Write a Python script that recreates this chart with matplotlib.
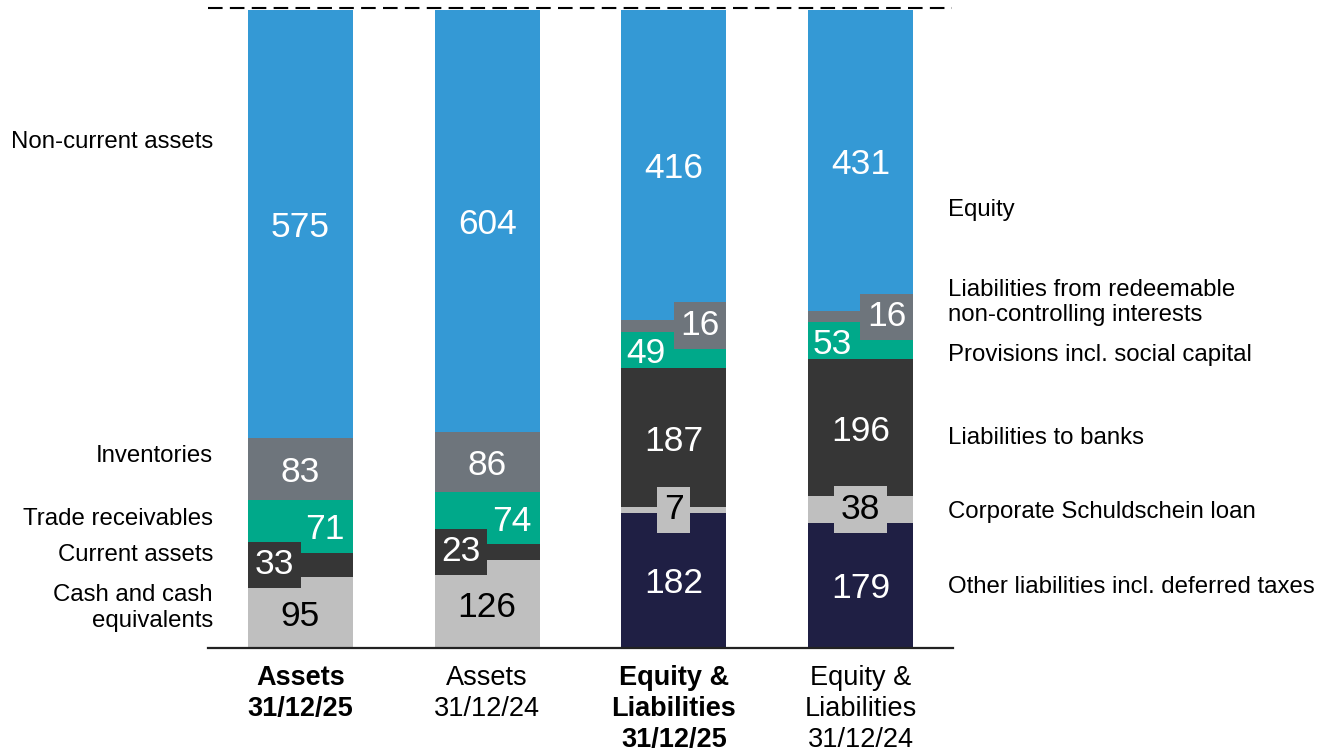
import matplotlib
matplotlib.use("Agg")
import matplotlib.pyplot as plt
from matplotlib.transforms import blended_transform_factory
import numpy as np

plt.rcParams['font.family'] = ['Liberation Sans', 'DejaVu Sans']

# ---------------- data ----------------
categories = ["Assets\n31/12/25", "Assets\n31/12/24",
              "Equity &\nLiabilities\n31/12/25", "Equity &\nLiabilities\n31/12/24"]
category_bold = [True, False, True, False]

asset_labels = ["Cash and cash\nequivalents", "Current assets", "Trade receivables",
                "Inventories", "Non-current assets"]
assets_2025 = [95, 33, 71, 83, 575]
assets_2024 = [126, 23, 74, 86, 604]

liab_labels = ["Other liabilities incl. deferred taxes", "Corporate Schuldschein loan",
               "Liabilities to banks", "Provisions incl. social capital",
               "Liabilities from redeemable\nnon-controlling interests", "Equity"]
liab_2025 = [182, 7, 187, 49, 16, 416]
liab_2024 = [179, 38, 196, 53, 16, 431]

# ---------------- style ----------------
BLUE = "#3499D5"
GREY = "#6E757C"
GREEN = "#00A98A"
DARK = "#363636"
LIGHT = "#BFBFBF"
NAVY = "#1F1F44"

asset_colors = [LIGHT, DARK, GREEN, GREY, BLUE]
liab_colors = [NAVY, LIGHT, DARK, GREEN, GREY, BLUE]

columns = [(assets_2025, asset_colors), (assets_2024, asset_colors),
           (liab_2025, liab_colors), (liab_2024, liab_colors)]

# label placement modes for special (column, segment) pairs
label_mode = {
    (0, 1): "boxleft", (0, 2): "right",
    (1, 1): "boxleft", (1, 2): "right",
    (2, 1): "boxcenter", (2, 3): "left", (2, 4): "boxright",
    (3, 1): "boxcenter", (3, 3): "left", (3, 4): "boxright",
}

# label y positions (axes fraction) for side legends
asset_label_y = [0.0627, 0.146, 0.202, 0.301, 0.793]
liab_label_y = [0.0956, 0.213, 0.329, 0.459, 0.5415, 0.687]

W, H = 1317, 754
fig = plt.figure(figsize=(W / 100, H / 100), dpi=100)
ax = fig.add_axes([208 / W, 106 / H, 745 / W, 638 / H])
ax.set_xlim(-0.495, 3.495)
ax.set_ylim(0, 100)
ax.axis("off")

bar_w = 0.5625
NUM_FS = 25.5
PAD = 0.19
SIDE_FS = 17.3

for ci, (vals, cols) in enumerate(columns):
    vals = np.array(vals, dtype=float)
    pct = vals / vals.sum() * 100
    bottoms = np.concatenate([[0], np.cumsum(pct)[:-1]])
    ax.bar(ci, pct, bottom=bottoms, width=bar_w, color=cols, linewidth=0, zorder=2)
    for si, (v, p, b, c) in enumerate(zip(vals, pct, bottoms, cols)):
        yc = b + p / 2
        tc = "black" if c == LIGHT else "white"
        mode = label_mode.get((ci, si), "center")
        left = ci - bar_w / 2
        right = ci + bar_w / 2
        txt = f"{int(v)}"
        if mode == "center":
            ax.text(ci, yc, txt, ha="center", va="center_baseline", fontsize=NUM_FS,
                    color=tc, zorder=4)
        elif mode == "left":
            ax.annotate(txt, (left, yc), xytext=(3.5, 0), textcoords="offset points",
                        ha="left", va="center_baseline", fontsize=NUM_FS, color=tc, zorder=4)
        elif mode == "right":
            ax.annotate(txt, (right, yc), xytext=(-6, 0), textcoords="offset points",
                        ha="right", va="center_baseline", fontsize=NUM_FS, color=tc, zorder=4)
        else:
            off = PAD * NUM_FS
            bbox = dict(boxstyle=f"square,pad={PAD}", fc=c, ec="none")
            if mode == "boxleft":
                ax.annotate(txt, (left, yc), xytext=(off, 0), textcoords="offset points",
                            ha="left", va="center", fontsize=NUM_FS, color=tc,
                            bbox=bbox, zorder=5)
            elif mode == "boxright":
                ax.annotate(txt, (right, yc), xytext=(-off, 0), textcoords="offset points",
                            ha="right", va="center", fontsize=NUM_FS, color=tc,
                            bbox=bbox, zorder=5)
            else:
                ax.text(ci, yc, txt, ha="center", va="center", fontsize=NUM_FS,
                        color=tc, bbox=bbox, zorder=5)

# baseline and dashed top line
ax.plot([-0.495, 3.495], [0, 0], color="#222222", lw=1.6, zorder=6, clip_on=False)
ax.plot([-0.495, 3.49], [100.3, 100.3], color="black", lw=1.5, ls=(0, (7, 3.5)),
        zorder=6, clip_on=False)

# category labels
tr = blended_transform_factory(ax.transData, ax.transAxes)
for ci, (cat, bold) in enumerate(zip(categories, category_bold)):
    ax.text(ci, -0.026, cat, transform=tr, ha="center", va="top", fontsize=19.5,
            fontweight="bold" if bold else "normal", linespacing=1.26, color="black")

# side labels
for lab, y in zip(asset_labels, asset_label_y):
    ax.text(0.0067, y, lab, transform=ax.transAxes, ha="right", va="center",
            fontsize=SIDE_FS, linespacing=1.2, color="black")
for lab, y in zip(liab_labels, liab_label_y):
    ax.text(0.9933, y, lab, transform=ax.transAxes, ha="left", va="center",
            fontsize=SIDE_FS, linespacing=1.2, color="black")

fig.savefig("out.png", dpi=100)
